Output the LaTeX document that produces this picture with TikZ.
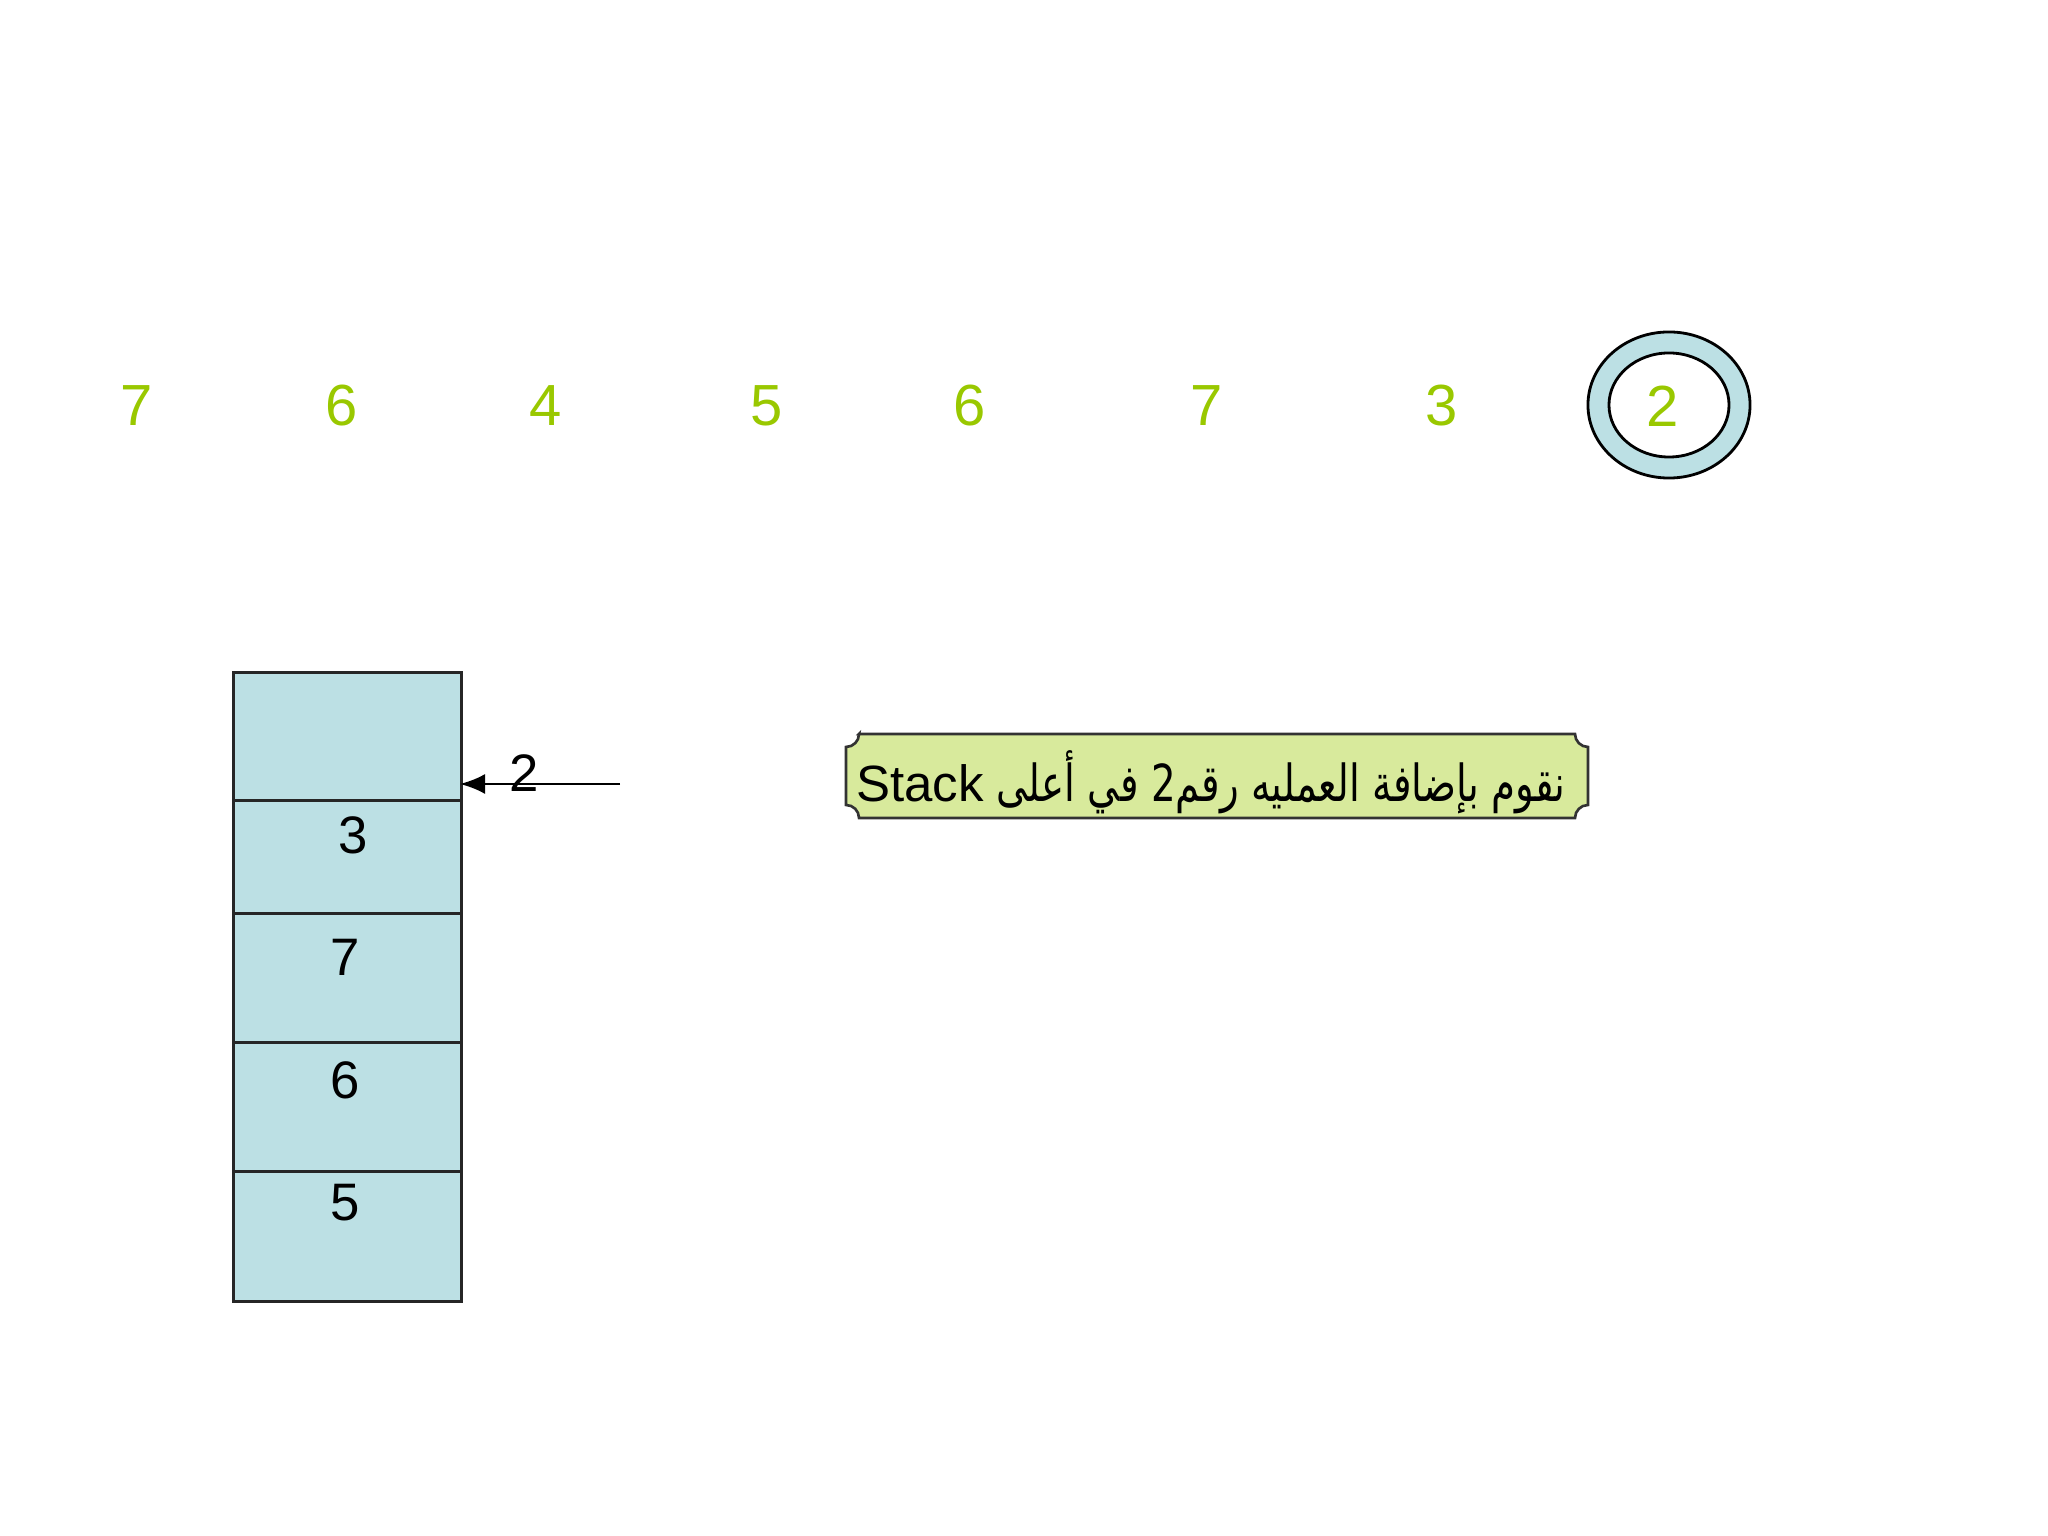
\documentclass[tikz,border=0pt]{standalone}
\usepackage{fontspec}
\setmainfont{Liberation Sans}
\newfontfamily\arabicfont[Script=Arabic]{DejaVu Sans}
\newfontfamily\latinfont{Liberation Sans}
\TeXXeTstate=1
\usetikzlibrary{arrows.meta,shapes.geometric}
\definecolor{numgreen}{HTML}{99C800}
\definecolor{stackfill}{HTML}{BCE0E4}
\definecolor{notefill}{HTML}{D8EA9C}
\tikzset{
  topnum/.style={text=numgreen, font=\fontsize{16.5}{18}\selectfont, inner sep=0pt},
  cellbox/.style={draw=black!85, line width=0.75pt, fill=stackfill, minimum width=2.28cm, inner sep=0pt, anchor=north west},
  cellnum/.style={font=\fontsize{15}{17}\selectfont, inner sep=0pt},
  pusharrow/.style={-{Latex[length=2.5mm,width=2mm]}, line width=0.7pt},
  ringout/.style={ellipse, draw=black, line width=0.8pt, fill=stackfill, minimum width=1.62cm, minimum height=1.46cm, inner sep=0pt},
  ringin/.style={ellipse, draw=black, line width=0.8pt, fill=white, minimum width=1.20cm, minimum height=1.04cm, inner sep=0pt},
}
\begin{document}
\begin{tikzpicture}[x=0.01cm, y=0.01cm]
\useasboundingbox (0,0) rectangle (2048,1536);
% top row of numbers
\node[topnum] (t1) at (137,1130) {7};
\node[topnum] (t2) at (342,1130) {6};
\node[topnum] (t3) at (546,1130) {4};
\node[topnum] (t4) at (767,1130) {5};
\node[topnum] (t5) at (970,1130) {6};
\node[topnum] (t6) at (1207,1130) {7};
\node[topnum] (t7) at (1442,1130) {3};
\node[ringout] (ro) at (1669,1131) {};
\node[ringin] (ri) at (1669,1131) {};
\node[topnum] (t8) at (1663,1130) {2};
% stack
\node[cellbox, minimum height=1.28cm] (c0) at (232,865) {};
\node[cellbox, minimum height=1.13cm] (c1) at (232,737) {};
\node[cellbox, minimum height=1.29cm] (c2) at (232,624) {};
\node[cellbox, minimum height=1.29cm] (c3) at (232,495) {};
\node[cellbox, minimum height=1.30cm] (c4) at (232,366) {};
\node[cellnum] (n1) at (353,701) {3};
\node[cellnum] (n2) at (345,579) {7};
\node[cellnum] (n3) at (345,456) {6};
\node[cellnum] (n4) at (345,333) {5};
% arrow
\coordinate (tail) at (620,752);
\coordinate (tip) at (460,752);
\draw[pusharrow] (tail) -- (tip);
\node[cellnum] (lbl) at (524,763) {2};
% plaque
\fill[notefill, draw=black!80, line width=0.75pt]
  (859,802) -- (1575,802) arc[start angle=180, end angle=270, radius=0.13cm]
  -- (1588,731) arc[start angle=90, end angle=180, radius=0.13cm]
  -- (859,718) arc[start angle=0, end angle=90, radius=0.13cm]
  -- (846,789) arc[start angle=270, end angle=360, radius=0.13cm] -- cycle;
\node[inner sep=0pt, font=\fontsize{14.5}{16}\selectfont] (note) at (1211,754)
  {{\latinfont Stack}\hspace{0.25em}\scalebox{0.76}[1.0]{\arabicfont\beginR نقوم بإضافة العمليه رقم\beginL 2\endL{} في أعلى\endR}};
\end{tikzpicture}
\end{document}
